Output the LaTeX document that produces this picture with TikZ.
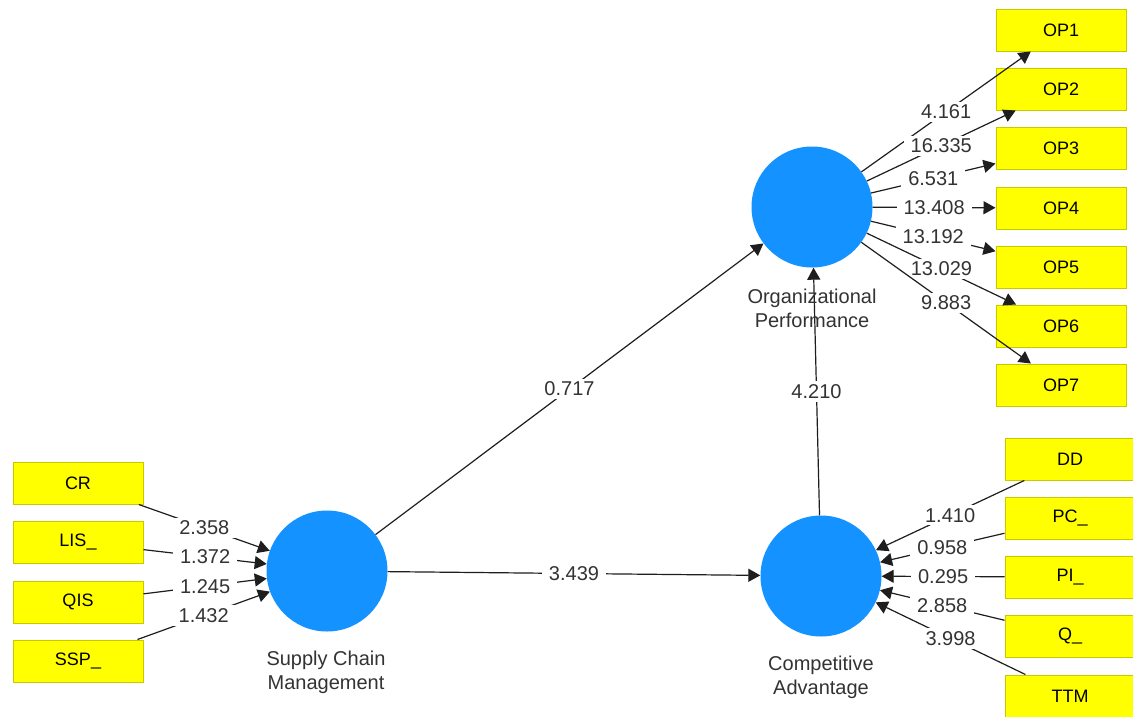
\documentclass[tikz,border=0pt]{standalone}
\usepackage{fontspec}
\setmainfont{Liberation Sans}
\usetikzlibrary{arrows.meta}
\definecolor{lvblue}{HTML}{1492FF}
\definecolor{indyellow}{HTML}{FFFF00}
\definecolor{indborder}{HTML}{C9C900}
\definecolor{txtgray}{HTML}{333333}
\definecolor{edgeclr}{HTML}{1E1E1E}
\tikzset{
  latent/.style={circle, fill=lvblue, draw=none, minimum size=121pt, inner sep=0pt},
  indicator/.style={rectangle, fill=indyellow, draw=indborder, line width=1pt,
    minimum width=130pt, minimum height=42pt, inner sep=0pt,
    font=\fontsize{18}{21}\selectfont, text=black},
  lvname/.style={align=center, text=txtgray, font=\fontsize{20}{24}\selectfont},
  path/.style={draw=edgeclr, line width=1.2pt, -{Triangle[length=12pt,width=13pt]}},
  coef/.style={midway, fill=white, inner xsep=7pt, inner ysep=3pt, text=txtgray,
    font=\fontsize{20}{24}\selectfont}
}
\begin{document}
\begin{tikzpicture}[x=1pt, y=-1pt]
\useasboundingbox (0,0) rectangle (1133,716);
\fill[white] (0,0) rectangle (1133,716);

% latent variables
\node[latent] (op)  at (812,207) {};
\node[latent] (scm) at (327,571) {};
\node[latent] (ca)  at (821,576) {};

% indicators of Organizational Performance
\node[indicator] (op1) at (1061,30)  {OP1};
\node[indicator] (op2) at (1061,89)  {OP2};
\node[indicator] (op3) at (1061,148) {OP3};
\node[indicator] (op4) at (1061,208) {OP4};
\node[indicator] (op5) at (1061,267) {OP5};
\node[indicator] (op6) at (1061,326) {OP6};
\node[indicator] (op7) at (1061,385) {OP7};

% indicators of Supply Chain Management
\node[indicator] (cr)  at (78,483) {CR};
\node[indicator] (lis) at (78,542) {LIS\_};
\node[indicator] (qis) at (78,602) {QIS};
\node[indicator] (ssp) at (78,661) {SSP\_};

% indicators of Competitive Advantage
\node[indicator] (dd)  at (1070,459) {DD};
\node[indicator] (pc)  at (1070,518) {PC\_};
\node[indicator] (pi)  at (1070,577) {PI\_};
\node[indicator] (q)   at (1070,636) {Q\_};
\node[indicator] (ttm) at (1070,696) {TTM};

% structural paths
\draw[path] (scm) -- node[coef] {0.717} (op);
\draw[path] (scm) -- node[coef] {3.439} (ca);
\draw[path] (ca)  -- node[coef] {4.210} (op);

% latent variable names
\node[lvname] (opname)  at (812,308) {Organizational\\Performance};
\node[lvname] (scmname) at (326,672) {Supply Chain\\Management};
\node[lvname] (caname)  at (821,677) {Competitive\\Advantage};

% outer model: Organizational Performance
\draw[path] (op) -- node[coef] {4.161}  (op1);
\draw[path] (op) -- node[coef] {16.335} (op2);
\draw[path] (op) -- node[coef] {6.531}  (op3);
\draw[path] (op) -- node[coef] {13.408} (op4);
\draw[path] (op) -- node[coef] {13.192} (op5);
\draw[path] (op) -- node[coef] {13.029} (op6);
\draw[path] (op) -- node[coef] {9.883}  (op7);

% outer model: Supply Chain Management
\draw[path] (cr)  -- node[coef] {2.358} (scm);
\draw[path] (lis) -- node[coef] {1.372} (scm);
\draw[path] (qis) -- node[coef] {1.245} (scm);
\draw[path] (ssp) -- node[coef] {1.432} (scm);

% outer model: Competitive Advantage
\draw[path] (dd)  -- node[coef] {1.410} (ca);
\draw[path] (pc)  -- node[coef] {0.958} (ca);
\draw[path] (pi)  -- node[coef] {0.295} (ca);
\draw[path] (q)   -- node[coef] {2.858} (ca);
\draw[path] (ttm) -- node[coef] {3.998} (ca);
\end{tikzpicture}
\end{document}
